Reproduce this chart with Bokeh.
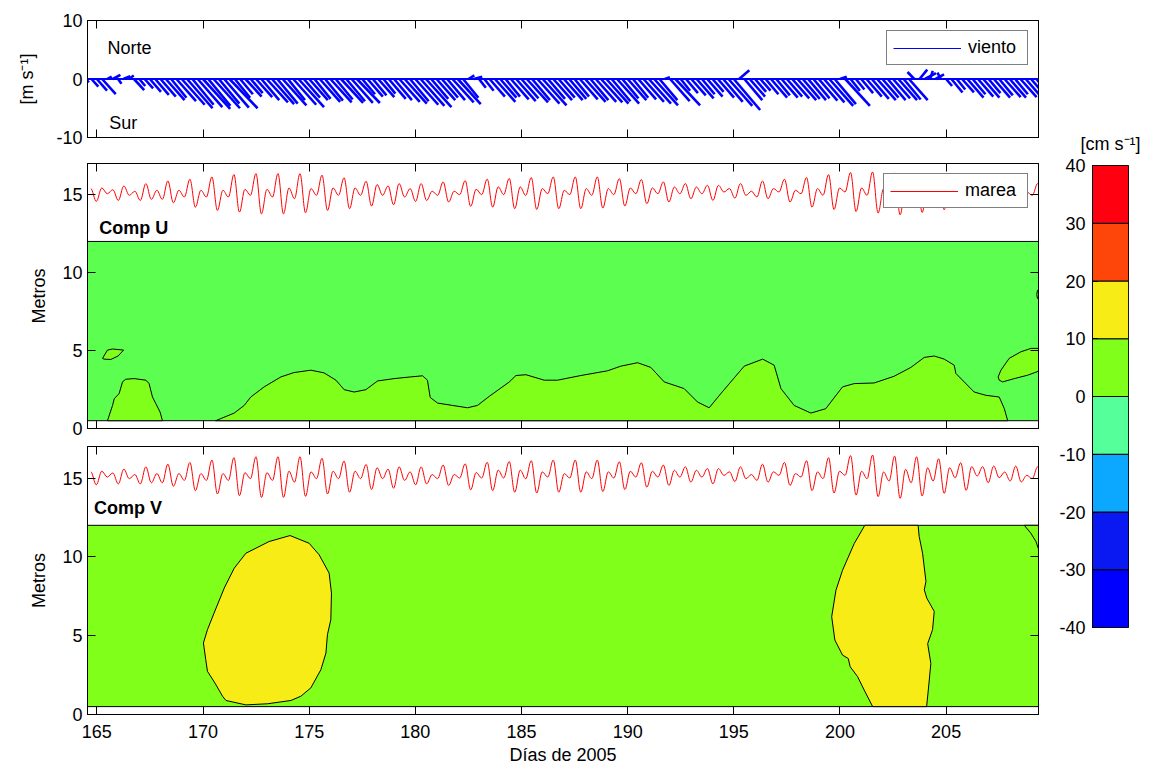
import numpy as np
from bokeh.plotting import figure
from bokeh.layouts import column, row
from bokeh.models import (LinearAxis, FixedTicker, CustomJSTickFormatter, Legend,
                          LegendItem, Span, ColumnDataSource, Range1d)
from bokeh.core.properties import value
from bokeh.embed import file_html
from bokeh.resources import INLINE

FONT = "Liberation Sans"

# ---------------- data ----------------
DAY_MIN, DAY_MAX = 164.56, 209.35
day_ticks = [165, 170, 175, 180, 185, 190, 195, 200, 205]
wind_ticks = [-10, 0, 10]
depth_ticks = [0, 5, 10, 15]

# wind (m/s), 6-hourly from day 164.5
wind_start = 164.5
wind_step = 0.25
wind_v = [
    -0.6, -1.3, -2.0, -2.6,   0.4, 0.7, -0.8, 0.5,   0.6, -1.9, -1.2, -1.6,
    -2.2, -2.7, -3.0, -3.6,  -3.2, -3.8, -4.4, -5.0,  -4.4, -4.8, -5.1, -4.6,
    -5.0, -4.2, -4.9, -5.0,  -3.2, -2.6, -3.0, -2.4,  -3.1, -3.6, -4.0, -4.3,
    -4.2, -4.5, -3.6, -4.4,  -4.8, -3.2, -3.6, -3.4,  -3.9, -3.7, -4.0, -3.5,
    -4.1, -3.8, -4.1, -4.1,  -2.6, -3.0, -2.8, -3.1,  -2.5, -3.4, -3.6, -3.9,
    -4.2, -3.8, -4.4, -4.6,  -4.8, -3.4, -3.6, -3.2,  -3.6, -4.0, -4.3, -3.2,
     0.6, 0.4, -1.5, -2.0,   -3.0, -3.9, -3.2, -3.0,  -3.5, -3.8, -3.3, -4.0,
    -3.6, -4.2, -4.5, -3.4,  -3.6, -3.2, -3.6, -3.4,  -3.0, -3.5, -3.9, -3.6,
    -3.9, -4.0, -4.2, -3.8,  -4.2, -3.3, -3.6, -3.2,  -3.5, -3.9, -4.2, -4.5,
    -3.6, 0.3, -3.8, -4.5,   -2.0, -2.4, -2.8, -3.3,  -2.6, -3.0, -2.2, -3.2,
    -3.9, -4.6, -5.3, 1.5,   -3.6, -3.0, -2.2, -2.0,  -2.6, -3.2, -2.8, -3.2,
    -3.0, -3.3, -3.6, -3.4,  -3.6, -3.3, -3.7, -4.0,  -4.6, -4.3, 0.4, -4.6,
    -2.0, -1.8, -2.4, -3.0,  -3.4, -3.6, -3.2, -3.6,  -3.3, -3.6, -3.5, -3.6,
     1.2, 1.6, 1.0, 1.4,      0.8, 1.1, -1.2, -2.3,   -1.8, -2.3, -3.2, -2.6,
    -3.0, -3.2, -2.4, -3.2,  -2.8, -3.1, -3.2, -2.6,  -3.1, -3.2, -2.9, -3.1,
]
wind_u = [
    0.3, 0.8, 1.2, 1.6,   0.5, 0.9, 0.4, 0.8,   0.6, 1.2, 0.7, 1.0,
    1.3, 1.6, 1.8, 2.2,   1.8, 2.3, 2.7, 3.0,   2.5, 2.9, 3.2, 2.6,
    3.1, 2.4, 2.9, 3.3,   1.8, 1.5, 1.9, 1.4,   1.9, 2.1, 2.5, 2.6,
    2.4, 2.8, 2.0, 2.7,   3.0, 1.9, 2.2, 1.9,   2.4, 2.1, 2.5, 2.0,
    2.6, 2.2, 2.5, 2.7,   1.5, 1.8, 1.6, 1.9,   1.4, 2.0, 2.1, 2.4,
    2.6, 2.2, 2.7, 2.8,   3.0, 2.0, 2.2, 1.9,   2.1, 2.5, 2.7, 1.8,
    0.7, 1.0, 0.8, 1.1,   1.8, 2.4, 1.9, 1.7,   2.1, 2.3, 2.0, 2.5,
    2.1, 2.6, 2.8, 2.0,   2.2, 1.9, 2.2, 2.0,   1.7, 2.1, 2.4, 2.1,
    2.4, 2.5, 2.6, 2.2,   2.6, 1.9, 2.2, 1.8,   2.1, 2.4, 2.6, 2.8,
    2.1, 0.6, 2.3, 2.9,   1.1, 1.4, 1.7, 2.0,   1.5, 1.8, 1.3, 1.9,
    2.3, 2.8, 3.1, 1.2,   2.1, 1.8, 1.3, 1.2,   1.5, 1.9, 1.6, 1.9,
    1.8, 2.0, 2.2, 2.0,   2.1, 1.9, 2.2, 2.4,   2.8, 2.5, 0.8, 2.9,
    1.1, 1.0, 1.4, 1.8,   2.0, 2.2, 1.9, 2.1,   2.0, 2.2, 2.0, 2.2,
   -0.8, 0.9, 1.3, 0.3,   1.0, -0.4, 0.7, 1.3,  1.0, 1.4, 1.9, 1.5,
    1.8, 1.9, 1.4, 1.9,   1.6, 1.9, 1.9, 1.5,   1.9, 1.9, 1.7, 1.8,
]
WIND_SCALE = 0.4  # days per m/s on the time axis (quiver scaling)

# tide (m): successive high/low waters
tide_start = 164.715
tide_step = 0.2593
tide_extremes = [
    15.39, 14.57, 15.43, 15.06, 15.32, 14.63, 15.56, 14.96, 15.22, 14.63,
    15.71, 14.70, 15.28, 14.70, 15.88, 14.48, 15.28, 14.85, 15.99, 14.20,
    15.28, 14.85, 16.14, 13.99, 15.28, 14.85, 16.29, 13.88, 15.34, 14.96,
    16.35, 13.77, 15.34, 14.85, 16.35, 13.77, 15.43, 14.74, 16.35, 13.84,
    15.39, 14.96, 16.25, 13.99, 15.43, 14.96, 16.08, 14.10, 15.43, 14.96,
    15.86, 14.27, 15.65, 14.96, 15.56, 14.35, 15.71, 14.85, 15.39, 14.57,
    15.71, 14.63, 15.22, 14.96, 15.82, 14.53, 15.22,
    15.00, 15.90, 14.25, 15.35, 15.00, 16.00, 14.20, 15.50, 15.00, 16.05,
    14.10, 15.50, 14.95, 16.10, 14.05,
    15.39, 15.06, 16.14, 14.10, 15.28, 15.00, 16.14, 14.10, 15.39, 14.96,
    16.14, 14.14, 15.39, 15.00, 16.03, 14.27, 15.43, 15.06, 15.97, 14.42,
    15.43, 15.06, 15.82, 14.53, 15.49, 15.06, 15.71, 14.74, 15.49, 15.06,
    15.60, 14.63, 15.60, 15.17, 15.39, 14.78, 15.71, 14.96, 15.22, 14.85,
    15.88, 14.74, 15.39, 15.17, 15.99, 14.53, 15.28, 15.06, 16.10, 14.20,
    15.39, 14.96, 16.29, 14.05, 15.43, 15.17, 16.42, 13.92, 15.43, 14.96,
    16.46, 13.82,
    15.38, 14.81, 16.39, 13.71, 15.55, 14.70, 16.35, 13.86, 15.65, 14.81,
    16.22, 14.03, 15.65, 15.02, 15.97, 14.22, 15.72, 15.13, 15.72, 14.70,
    15.76, 15.02, 15.38, 14.81, 15.76, 14.75, 15.17, 14.96, 15.72,
]

# current sections: measured depth span (m)
cell_bottom, cell_top = 0.5, 12.0

# Comp U : regions of 0..10 cm/s inside the background class
u_blob_a_day = [165.27, 165.50, 165.74, 166.26, 166.00, 165.66, 165.34]
u_blob_a_z = [4.50, 5.03, 5.10, 5.03, 4.65, 4.43, 4.45]
u_bump_a_day = [165.50, 165.74, 165.82, 166.05, 166.21, 166.36, 166.76, 167.31,
                167.46, 167.62, 167.78, 167.98, 168.09]
u_bump_a_z = [0.50, 1.48, 1.91, 2.24, 2.99, 3.16, 3.20, 3.10, 2.88, 2.02, 1.59, 1.05, 0.50]
u_bump_b_day = [170.60, 171.47, 171.94, 172.25, 172.88, 173.67, 174.29, 175.08, 175.70, 176.26,
                176.65, 177.12, 177.67, 178.22, 179.00, 179.79, 180.34, 180.57, 180.70, 181.05,
                181.75, 182.46, 182.93, 183.48, 184.42, 184.74, 185.21, 186.07, 186.70, 187.80,
                189.05, 189.68, 190.47, 191.09, 191.72, 192.66, 193.29, 193.84, 194.39, 195.49,
                196.36, 196.90, 197.22, 197.84, 198.63, 199.33, 200.12, 200.67, 201.61, 202.55,
                203.34, 203.97, 204.44, 204.91, 205.38, 205.46, 206.32, 206.87, 207.50, 207.74,
                207.90]
u_bump_b_z = [0.50, 0.99, 1.48, 2.02, 2.67, 3.31, 3.59, 3.74, 3.57, 3.10,
              2.49, 2.34, 2.49, 3.05, 3.20, 3.31, 3.38, 3.10, 1.99, 1.63,
              1.48, 1.33, 1.48, 2.06, 2.98, 3.40, 3.45, 3.10, 3.10, 3.40,
              3.70, 4.00, 4.22, 3.92, 2.99, 2.56, 1.70, 1.33, 2.24, 4.00,
              4.45, 4.06, 2.56, 1.48, 0.99, 1.27, 2.67, 2.88, 2.92, 3.35,
              3.92, 4.56, 4.65, 4.45, 4.06, 3.53, 2.34, 2.13, 2.02, 1.27,
              0.50]
u_blob_b_day = [207.45, 207.58, 207.97, 208.52, 209.00, 209.40, 209.40, 208.84, 208.21, 207.66, 207.50]
u_blob_b_z = [3.31, 3.74, 4.50, 4.92, 5.14, 5.14, 3.70, 3.42, 3.20, 2.99, 3.10]
u_blob_c_day = [209.40, 209.30, 209.27, 209.30, 209.40]
u_blob_c_z = [9.00, 8.85, 8.60, 8.35, 8.20]

# Comp V : regions of 10..20 cm/s
v_blob_a_day = [170.02, 170.21, 170.52, 171.00, 171.47, 172.02, 173.11, 174.10, 175.00, 175.47,
                175.94, 176.05, 176.02, 175.86, 175.79, 175.55, 175.08, 174.61, 174.14, 173.04,
                172.02, 171.08, 170.92, 170.56, 170.21, 170.13]
v_blob_a_z = [4.54, 5.38, 6.43, 8.02, 9.28, 10.23, 10.97, 11.35, 10.86, 10.13,
              8.97, 7.70, 6.01, 5.06, 3.90, 2.84, 1.69, 1.16, 0.89, 0.68,
              0.61, 0.89, 1.16, 2.00, 2.74, 3.48]
v_band_b_day = [201.17, 200.67, 200.12, 199.81, 199.61, 199.76, 200.12, 200.39, 200.48, 200.83,
                201.14, 201.54, 204.08, 204.16, 204.28, 204.13, 204.36, 204.44, 204.09, 203.97,
                204.05, 203.89, 203.73, 203.68]
v_band_b_z = [12.0, 10.84, 9.15, 7.88, 6.20, 4.72, 3.77, 3.55, 3.03, 2.40,
              1.55, 0.50, 0.50, 1.55, 3.24, 4.49, 5.38, 6.54, 7.38, 7.91,
              8.44, 10.23, 11.29, 12.0]
v_arc_day = [208.68, 208.99, 209.23, 209.40, 209.40]
v_arc_z = [12.0, 11.5, 10.97, 10.3, 12.0]

# colour scale
cbar_levels = [-40, -30, -20, -10, 0, 10, 20, 30, 40]
cbar_colors = ["#0000FF", "#0A18F2", "#0CA8FF", "#55FF99",
               "#80FF1A", "#F7EC16", "#FF460A", "#FF0010"]
u_base_color = "#5CFF50"
lime = cbar_colors[4]
yellow = cbar_colors[5]

assert len(wind_u) == len(wind_v)

PLAIN = "return String(tick)"

# ---------------- helpers ----------------
def make_panel(frame_h, y0, y1, b_top, b_bottom):
    p = figure(frame_width=951, frame_height=frame_h,
               x_range=Range1d(DAY_MIN, DAY_MAX), y_range=Range1d(y0, y1),
               x_axis_type=None, y_axis_type=None,
               toolbar_location=None, output_backend="svg",
               min_border_left=87, min_border_right=10,
               min_border_top=b_top, min_border_bottom=b_bottom)
    p.outline_line_color = "black"
    p.outline_line_width = 1
    p.outline_line_alpha = 1
    p.background_fill_color = "white"
    p.border_fill_color = "white"
    return p


def add_axis(p, side, ticks, labels=False, tick_len=8, label=None,
             label_standoff=0, tick_standoff=5):
    ax = LinearAxis(ticker=FixedTicker(ticks=ticks))
    ax.major_tick_in = tick_len
    ax.major_tick_out = 0
    ax.minor_tick_in = 0
    ax.minor_tick_out = 0
    ax.axis_line_color = "black"
    ax.major_tick_line_color = "black"
    if labels:
        ax.formatter = CustomJSTickFormatter(code=PLAIN)
        ax.major_label_text_font = FONT
        ax.major_label_text_font_size = "18px"
        ax.major_label_text_color = "black"
        ax.major_label_standoff = tick_standoff
    else:
        ax.formatter = CustomJSTickFormatter(code="return ''")
        ax.major_label_text_font_size = "1px"
        ax.major_label_standoff = 0
    if label:
        ax.axis_label = label
        ax.axis_label_text_font = FONT
        ax.axis_label_text_font_size = "18px"
        ax.axis_label_text_font_style = "normal"
        ax.axis_label_text_color = "black"
        ax.axis_label_standoff = label_standoff
    p.add_layout(ax, side)
    return ax


def style_legend(leg, label_w):
    leg.location = "top_right"
    leg.margin = 10
    leg.padding = 6
    leg.spacing = 0
    leg.glyph_width = 68
    leg.glyph_height = 20
    leg.label_height = 20
    leg.label_width = label_w
    leg.label_standoff = 7
    leg.label_text_font = FONT
    leg.label_text_font_size = "18px"
    leg.label_text_color = "black"
    leg.border_line_color = "black"
    leg.border_line_width = 1
    leg.background_fill_color = "white"
    leg.background_fill_alpha = 1


# tide bezier source (curve through successive extremes)
tide_t = tide_start + tide_step * np.arange(len(tide_extremes))
tide_h = np.array(tide_extremes)
k = 0.364 * tide_step
tide_src = dict(x0=tide_t[:-1], y0=tide_h[:-1], x1=tide_t[1:], y1=tide_h[1:],
                cx0=tide_t[:-1] + k, cy0=tide_h[:-1], cx1=tide_t[1:] - k, cy1=tide_h[1:])

# legend keys: a line renderer with a single undefined point (draws only its key)
def key_source():
    return ColumnDataSource(dict(x=np.array([np.nan]), y=np.array([np.nan])))

# ---------------- panel 1: wind ----------------
p1 = make_panel(117, -10, 10, 20, 13)
add_axis(p1, "left", wind_ticks, labels=True, tick_len=8, label="[m s⁻¹]", label_standoff=16)
add_axis(p1, "right", wind_ticks)
add_axis(p1, "below", day_ticks)
add_axis(p1, "above", day_ticks)

wd = wind_start + wind_step * np.arange(len(wind_v))
wv = np.array(wind_v)
wu = np.array(wind_u)
wsrc = ColumnDataSource(dict(x0=wd, y0=np.zeros_like(wd), x1=wd + WIND_SCALE * wu, y1=wv))
p1.add_layout(Span(location=0, dimension="width", line_color="#0000FF", line_width=2))
p1.segment(x0="x0", y0="y0", x1="x1", y1="y1", source=wsrc,
           line_color="#0000FF", line_width=2.6)
r_wind_key = p1.line(x="x", y="y", source=key_source(), line_color="#0000FF", line_width=1)
p1.text(x=[165.50], y=[5.24], text=["Norte"], text_font=value(FONT), text_font_size="18px",
        text_color="black", text_align="left", text_baseline="alphabetic")
p1.text(x=[165.58], y=[-7.54], text=["Sur"], text_font=value(FONT), text_font_size="18px",
        text_color="black", text_align="left", text_baseline="alphabetic")
leg1 = Legend(items=[LegendItem(label="viento", renderers=[r_wind_key])])
style_legend(leg1, 53)
p1.add_layout(leg1)

# ---------------- panel 2: Comp U ----------------
p2 = make_panel(265, 0, 17, 13, 12)
add_axis(p2, "left", depth_ticks, labels=True, tick_len=8, label="Metros", label_standoff=10)
add_axis(p2, "right", depth_ticks)
add_axis(p2, "below", day_ticks)
add_axis(p2, "above", day_ticks)

p2.quad(left=[DAY_MIN], right=[DAY_MAX], bottom=[cell_bottom], top=[cell_top],
        fill_color=u_base_color, line_color="black", line_width=1)
p2.patches(xs=[u_blob_a_day, u_bump_a_day, u_bump_b_day, u_blob_b_day, u_blob_c_day],
           ys=[u_blob_a_z, u_bump_a_z, u_bump_b_z, u_blob_b_z, u_blob_c_z],
           fill_color=lime, line_color="black", line_width=1)
p2.bezier(x0="x0", y0="y0", x1="x1", y1="y1", cx0="cx0", cy0="cy0",
          cx1="cx1", cy1="cy1", source=ColumnDataSource(tide_src),
          line_color="#FF0000", line_width=1)
r_tide_key = p2.line(x="x", y="y", source=key_source(), line_color="#FF0000", line_width=1)
p2.text(x=[165.11], y=[12.86], text=["Comp U"], text_font=value(FONT), text_font_size="18px",
        text_font_style="bold", text_color="black", text_align="left", text_baseline="alphabetic")
leg2 = Legend(items=[LegendItem(label="marea", renderers=[r_tide_key])])
style_legend(leg2, 56)
p2.add_layout(leg2)

# ---------------- panel 3: Comp V ----------------
p3 = make_panel(268, 0, 17, 6, 5)
add_axis(p3, "left", depth_ticks, labels=True, tick_len=8, label="Metros", label_standoff=10)
add_axis(p3, "right", depth_ticks)
add_axis(p3, "below", day_ticks, labels=True, label="Días de 2005", label_standoff=4, tick_standoff=10)
add_axis(p3, "above", day_ticks)

p3.quad(left=[DAY_MIN], right=[DAY_MAX], bottom=[cell_bottom], top=[cell_top],
        fill_color=lime, line_color="black", line_width=1)
p3.patches(xs=[v_blob_a_day, v_band_b_day], ys=[v_blob_a_z, v_band_b_z],
           fill_color=yellow, line_color="black", line_width=1)
p3.patch(x=v_arc_day, y=v_arc_z, fill_color=lime, line_color="black", line_width=1)
p3.bezier(x0="x0", y0="y0", x1="x1", y1="y1", cx0="cx0", cy0="cy0",
          cx1="cx1", cy1="cy1", source=ColumnDataSource(tide_src),
          line_color="#FF0000", line_width=1)
p3.text(x=[164.87], y=[13.07], text=["Comp V"], text_font=value(FONT), text_font_size="18px",
        text_font_style="bold", text_color="black", text_align="left", text_baseline="alphabetic")

# ---------------- colour bar ----------------
pc = figure(frame_width=36, frame_height=462, x_range=Range1d(0, 1), y_range=Range1d(-40, 40),
            x_axis_type=None, y_axis_type=None, toolbar_location=None, output_backend="svg",
            min_border_left=44, min_border_right=20, min_border_top=165, min_border_bottom=15,
            title="[cm s⁻¹]")
pc.title.align = "center"
pc.title.text_font = FONT
pc.title.text_font_size = "18px"
pc.title.text_font_style = "normal"
pc.title.text_color = "black"
pc.title.standoff = 24
pc.outline_line_color = "black"
pc.background_fill_color = "white"
pc.border_fill_color = "white"
pc.quad(left=0, right=1, bottom=cbar_levels[:-1], top=cbar_levels[1:],
        fill_color=cbar_colors, line_color="black", line_width=1)
add_axis(pc, "left", cbar_levels, labels=True, tick_len=5, tick_standoff=7)

layout = row(column(p1, p2, p3), pc)

with open("out.html", "w", encoding="utf-8") as f:
    f.write(file_html(layout, INLINE, title="Viento, marea y corrientes"))
